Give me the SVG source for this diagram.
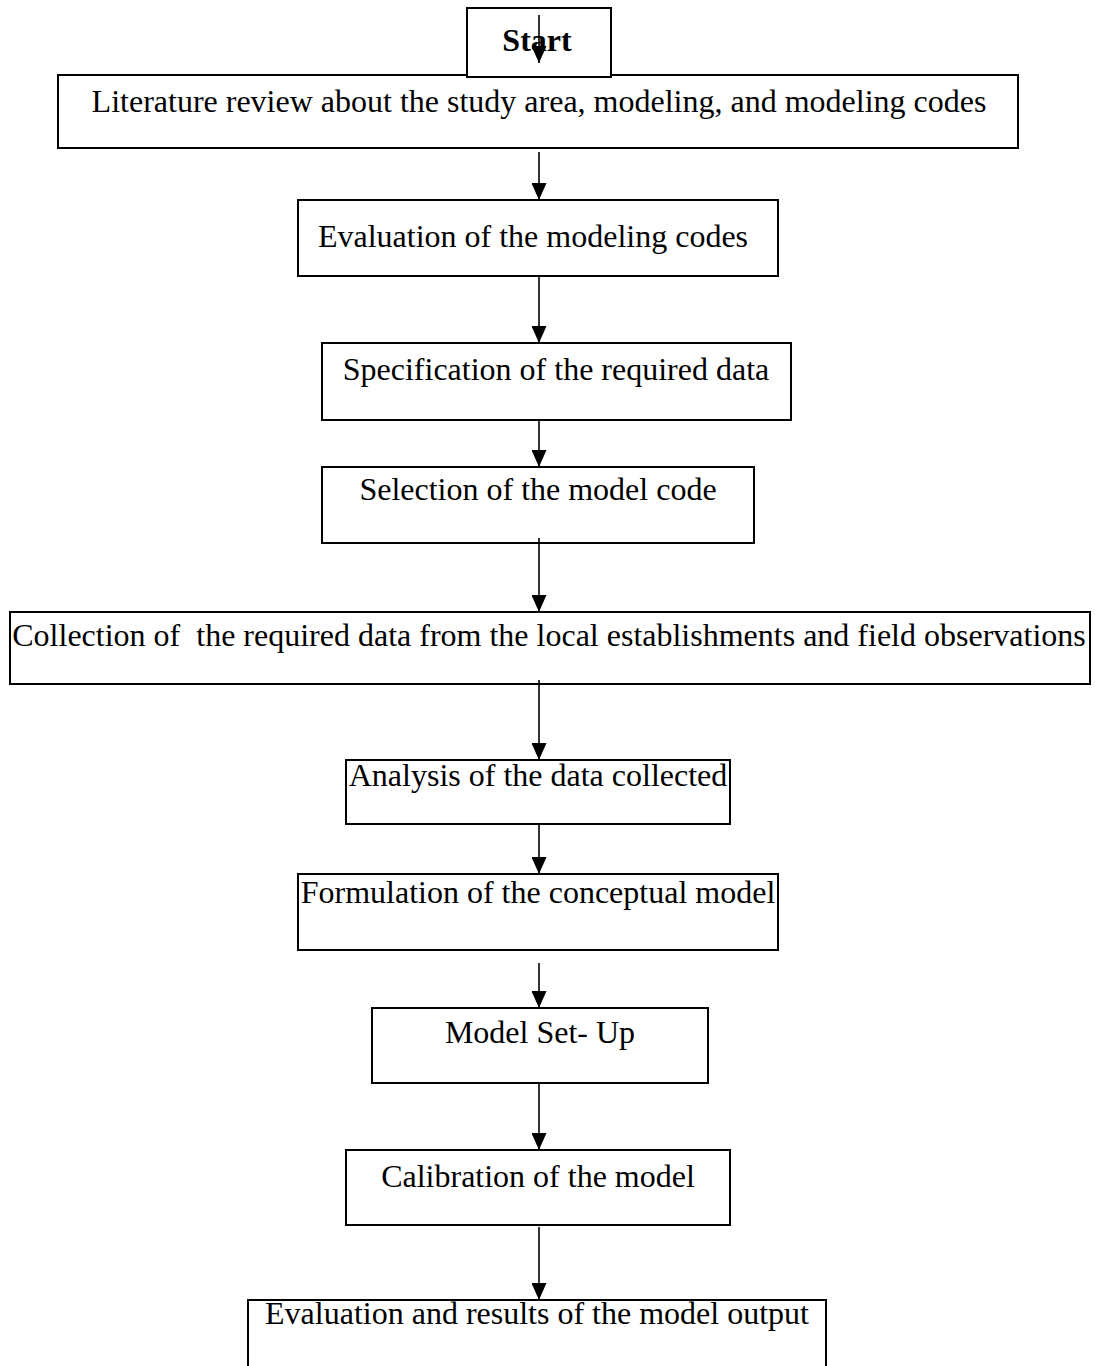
<svg xmlns="http://www.w3.org/2000/svg" width="1095" height="1366" viewBox="0 0 1095 1366">
<style>
.box{fill:#fff;stroke:#000;stroke-width:2}
.t{font-family:"Liberation Serif","Times New Roman",serif;font-size:32px;fill:#000;text-anchor:middle}
.b{font-weight:bold}
.c{stroke:#000;stroke-width:1.6;fill:none;marker-end:url(#ah)}
</style>
<defs>
<marker id="ah" viewBox="0 0 17 15" refX="17" refY="7.5" markerWidth="17" markerHeight="15" markerUnits="userSpaceOnUse" orient="auto">
<path d="M0,0 L17,7.5 L0,15 z" fill="#000"/>
</marker>
</defs>
<rect width="1095" height="1366" fill="#fff"/>
<g id="n-lit"><rect class="box" x="58" y="75" width="960" height="73"/><text class="t" x="539" y="112">Literature review about the study area, modeling, and modeling codes</text></g>
<g id="n-start"><rect class="box" x="467" y="8" width="144" height="69"/><text class="t b" x="537" y="51">Start</text></g>
<g id="n-eval"><rect class="box" x="298" y="200" width="480" height="76"/><text class="t" x="533" y="247">Evaluation of the modeling codes</text></g>
<g id="n-spec"><rect class="box" x="322" y="343" width="469" height="77"/><text class="t" x="556" y="380">Specification of the required data</text></g>
<g id="n-sel"><rect class="box" x="322" y="467" width="432" height="76"/><text class="t" x="538" y="500">Selection of the model code</text></g>
<g id="n-col"><rect class="box" x="10" y="612" width="1080" height="72"/><text class="t" x="549" y="646" xml:space="preserve">Collection of  the required data from the local establishments and field observations</text></g>
<g id="n-ana"><rect class="box" x="346" y="760" width="384" height="64"/><text class="t" x="538" y="786">Analysis of the data collected</text></g>
<g id="n-form"><rect class="box" x="298" y="874" width="480" height="76"/><text class="t" x="538" y="903">Formulation of the conceptual model</text></g>
<g id="n-setup"><rect class="box" x="372" y="1008" width="336" height="75"/><text class="t" x="540" y="1043">Model Set- Up</text></g>
<g id="n-cal"><rect class="box" x="346" y="1150" width="384" height="75"/><text class="t" x="538" y="1187">Calibration of the model</text></g>
<g id="n-res"><rect class="box" x="248" y="1300" width="578" height="80"/><text class="t" x="537" y="1324">Evaluation and results of the model output</text></g>
<g id="connectors">
<line class="c" x1="539" y1="15" x2="539" y2="63"/>
<line class="c" x1="539" y1="152" x2="539" y2="200"/>
<line class="c" x1="539" y1="277" x2="539" y2="343"/>
<line class="c" x1="539" y1="421" x2="539" y2="467"/>
<line class="c" x1="539" y1="538" x2="539" y2="612"/>
<line class="c" x1="539" y1="680" x2="539" y2="760"/>
<line class="c" x1="539" y1="825" x2="539" y2="874"/>
<line class="c" x1="539" y1="963" x2="539" y2="1008"/>
<line class="c" x1="539" y1="1083" x2="539" y2="1150"/>
<line class="c" x1="539" y1="1227" x2="539" y2="1300"/>
</g>
</svg>
